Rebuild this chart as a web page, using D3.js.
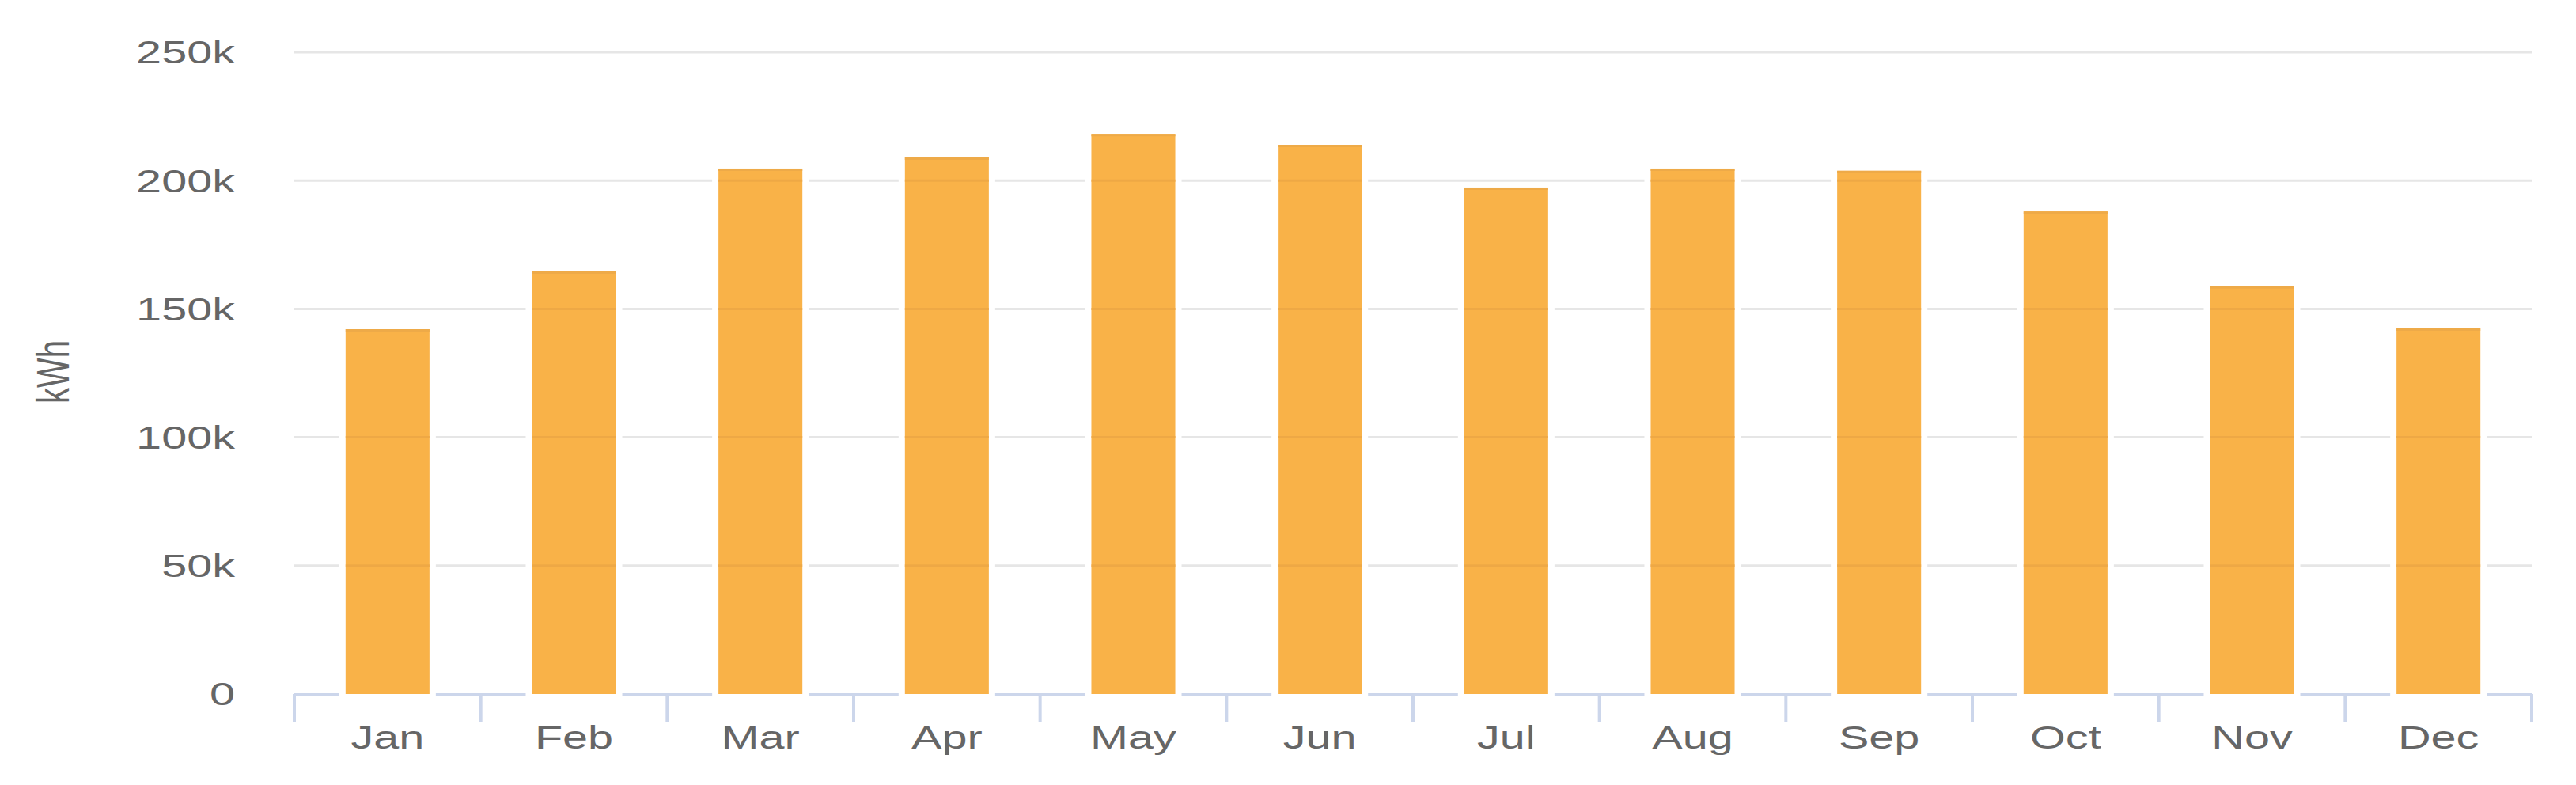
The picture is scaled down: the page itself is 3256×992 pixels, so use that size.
<!DOCTYPE html>
<html>
<head>
<meta charset="utf-8">
<script src="https://cdn.jsdelivr.net/npm/d3@7"></script>
<style>
  html, body { margin: 0; padding: 0; background: #ffffff; }
  svg { display: block; }
  text { font-family: "Liberation Sans", Arial, Helvetica, sans-serif; fill: #666666; }
</style>
</head>
<body>
<svg id="chart" width="3256" height="992"></svg>
<script>
// ---- data ----
const months = ["Jan", "Feb", "Mar", "Apr", "May", "Jun", "Jul", "Aug", "Sep", "Oct", "Nov", "Dec"];
const energyKWh = [142100, 164600, 204700, 209000, 218200, 213900, 197300, 204700, 203800, 188000, 158800, 142400];
const yTickValues = [0, 50000, 100000, 150000, 200000, 250000];
const yTickLabels = ["0", "50k", "100k", "150k", "200k", "250k"];
const yAxisTitle = "kWh";

// ---- layout ----
const W = 3256, H = 992;
const plotLeft = 372, plotRight = 3200;
const plotTop = 66, plotBottom = 877;
const stretch = 1.44;          // the picture is stretched horizontally
const fontSize = 40;
const barColor = "#f9b248";

const svg = d3.select("#chart");

const x = d3.scaleBand().domain(months).range([plotLeft, plotRight]).paddingInner(0).paddingOuter(0);
const xBar = d3.scaleBand().domain(months).range([plotLeft, plotRight]).paddingInner(0.55).paddingOuter(0.275);
const y = d3.scaleLinear().domain([0, 250000]).range([plotBottom, plotTop]);

// grid lines
svg.append("g").selectAll("line")
  .data(yTickValues.filter(v => v > 0))
  .join("line")
  .attr("x1", plotLeft).attr("x2", plotRight)
  .attr("y1", d => y(d)).attr("y2", d => y(d))
  .attr("stroke", "#e6e6e6").attr("stroke-width", 3);

// axis line and ticks (ticks at category boundaries)
const axisG = svg.append("g");
axisG.append("line")
  .attr("x1", plotLeft).attr("x2", plotRight)
  .attr("y1", y(0) + 1).attr("y2", y(0) + 1)
  .attr("stroke", "#ccd6eb").attr("stroke-width", 4);
const tickXs = months.map(m => x(m)).concat([x.range()[1]]);
axisG.selectAll("line.tick")
  .data(tickXs)
  .join("line")
  .attr("class", "tick")
  .attr("x1", d => d).attr("x2", d => d)
  .attr("y1", y(0)).attr("y2", y(0) + 36)
  .attr("stroke", "#ccd6eb").attr("stroke-width", 4);

// white gaps around bars (column border)
const gap = 8;
svg.append("g").selectAll("rect")
  .data(months.map((m, i) => ({ m, v: energyKWh[i] })))
  .join("rect")
  .attr("x", d => xBar(d.m) - gap)
  .attr("width", xBar.bandwidth() + 2 * gap)
  .attr("y", d => y(d.v) - 2)
  .attr("height", d => y(0) - y(d.v) + 6)
  .attr("fill", "#ffffff");

// bars
svg.append("g").selectAll("rect")
  .data(months.map((m, i) => ({ m, v: energyKWh[i] })))
  .join("rect")
  .attr("x", d => xBar(d.m))
  .attr("width", xBar.bandwidth())
  .attr("y", d => y(d.v))
  .attr("height", d => y(0) - y(d.v))
  .attr("fill", barColor);

// faint grid lines showing through the bars
const overlay = [];
months.forEach((m, i) => {
  yTickValues.filter(v => v > 0 && v < energyKWh[i]).forEach(v => overlay.push({ m, v }));
});
svg.append("g").selectAll("line")
  .data(overlay)
  .join("line")
  .attr("x1", d => xBar(d.m)).attr("x2", d => xBar(d.m) + xBar.bandwidth())
  .attr("y1", d => y(d.v)).attr("y2", d => y(d.v))
  .attr("stroke", "#eea845").attr("stroke-width", 3);

// thin darker top edge on bars
svg.append("g").selectAll("line")
  .data(months.map((m, i) => ({ m, v: energyKWh[i] })))
  .join("line")
  .attr("x1", d => xBar(d.m)).attr("x2", d => xBar(d.m) + xBar.bandwidth())
  .attr("y1", d => y(d.v) + 1.5).attr("y2", d => y(d.v) + 1.5)
  .attr("stroke", "#eeaa48").attr("stroke-width", 3);

// y tick labels
svg.append("g").selectAll("text")
  .data(yTickValues.map((v, i) => ({ v, label: yTickLabels[i] })))
  .join("text")
  .attr("transform", d => `translate(297,${y(d.v)}) scale(${stretch},1)`)
  .attr("text-anchor", "end")
  .attr("dy", "0.36em")
  .attr("font-size", fontSize)
  .text(d => d.label);

// x tick labels
svg.append("g").selectAll("text")
  .data(months)
  .join("text")
  .attr("transform", d => `translate(${x(d) + x.bandwidth() / 2},946) scale(${stretch},1)`)
  .attr("text-anchor", "middle")
  .attr("font-size", fontSize)
  .text(d => d);

// y axis title
svg.append("text")
  .attr("transform", `translate(66,470) scale(${stretch},1) rotate(-90)`)
  .attr("text-anchor", "middle")
  .attr("dy", "0.36em")
  .attr("font-size", fontSize)
  .text(yAxisTitle);
</script>
</body>
</html>
